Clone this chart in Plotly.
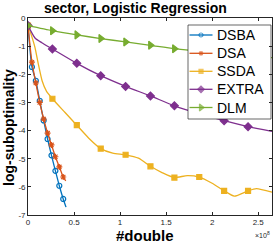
import plotly.graph_objects as go

# ---------------- data ----------------
series_names = ["DSBA", "DSA", "SSDA", "EXTRA", "DLM"]

# DSBA
dsba_x = [0, 0.0425, 0.085, 0.1275, 0.17, 0.2125, 0.255, 0.2975, 0.34, 0.3825, 0.413]
dsba_y = [-0.27, -1.74, -2.23, -2.94, -3.64, -4.30, -4.88, -5.43, -5.96, -6.43, -6.72]
dsba_mx = [0, 0.0425, 0.085, 0.1275, 0.17, 0.2125, 0.255, 0.2975, 0.34, 0.3825]
dsba_my = [-0.27, -1.74, -2.23, -2.94, -3.64, -4.30, -4.88, -5.43, -5.96, -6.43]

# DSA
dsa_x = [0, 0.0425, 0.085, 0.1275, 0.17, 0.2125, 0.255, 0.2975, 0.34, 0.3825, 0.41]
dsa_y = [-0.27, -1.57, -2.31, -3.00, -3.59, -4.09, -4.51, -4.93, -5.29, -5.65, -5.79]
dsa_mx = [0, 0.0425, 0.085, 0.1275, 0.17, 0.2125, 0.255, 0.2975, 0.34, 0.3825]
dsa_my = [-0.27, -1.57, -2.31, -3.00, -3.59, -4.09, -4.51, -4.93, -5.29, -5.65]

# SSDA
ssda_x = [0, 0.02, 0.05, 0.076, 0.11, 0.155, 0.2, 0.265, 0.4, 0.53, 0.66, 0.79, 0.92,
          1.06, 1.2, 1.33, 1.46, 1.59, 1.73, 1.86, 2.0, 2.13, 2.24, 2.39, 2.48, 2.65]
ssda_y = [-0.27, -0.45, -0.75, -1.05, -1.6, -2.25, -2.6, -2.87, -3.35, -3.81, -4.27, -4.64, -4.8,
          -4.86, -4.98, -5.27, -5.5, -5.67, -5.6, -5.65, -5.87, -6.14, -6.33, -6.14, -6.06, -6.19]
ssda_mx = [0, 0.265, 0.53, 0.79, 1.06, 1.33, 1.59, 1.86, 2.13, 2.39]
ssda_my = [-0.27, -2.87, -3.81, -4.64, -4.86, -5.27, -5.67, -5.65, -6.14, -6.14]

# EXTRA
extra_x = [0, 0.076, 0.15, 0.265, 0.53, 0.79, 1.06, 1.33, 1.59, 1.86, 2.13, 2.39, 2.65]
extra_y = [-0.27, -0.71, -0.88, -1.10, -1.61, -2.05, -2.43, -2.77, -3.12, -3.40, -3.65, -3.86, -4.03]
extra_mx = [0, 0.265, 0.53, 0.79, 1.06, 1.33, 1.59, 1.86, 2.13, 2.39]
extra_my = [-0.27, -1.10, -1.61, -2.05, -2.43, -2.77, -3.12, -3.40, -3.65, -3.86]

# DLM
dlm_x = [0, 0.265, 0.53, 0.79, 1.06, 1.33, 1.59, 1.86, 2.13, 2.39, 2.65]
dlm_y = [-0.27, -0.45, -0.60, -0.73, -0.85, -0.97, -1.09, -1.18, -1.27, -1.35, -1.41]
dlm_mx = [0, 0.265, 0.53, 0.79, 1.06, 1.33, 1.59, 1.86, 2.13, 2.39]
dlm_my = [-0.27, -0.45, -0.60, -0.73, -0.85, -0.97, -1.09, -1.18, -1.27, -1.35]

x_tick_vals = [0, 0.5, 1, 1.5, 2, 2.5]
x_tick_text = ["0", "0.5", "1", "1.5", "2", "2.5"]
y_tick_vals = [0, -1, -2, -3, -4, -5, -6, -7]
y_tick_text = ["0", "-1", "-2", "-3", "-4", "-5", "-6", "-7"]

# ---------------- styling ----------------
colors = ["#0072BD", "#D95319", "#EDB120", "#7E2F8E", "#77AC30"]
symbols = ["circle-open", "asterisk-open", "square", "diamond", "triangle-right"]
sizes = [5, 5, 5, 6, 7]
leg_sizes = [4, 4, 4, 5, 6]
FONT = "Liberation Sans, Arial, sans-serif"
LW = 1.3

# plot area in pixels
L, R, T, B = 28, 272, 18, 215
PW, PH = R - L, B - T

lines = [(dsba_x, dsba_y), (dsa_x, dsa_y), (ssda_x, ssda_y), (extra_x, extra_y), (dlm_x, dlm_y)]
marks = [(dsba_mx, dsba_my), (dsa_mx, dsa_my), (ssda_mx, ssda_my), (extra_mx, extra_my), (dlm_mx, dlm_my)]

fig = go.Figure()
for i, name in enumerate(series_names):
    lx, ly = lines[i]
    mx, my = marks[i]
    mk = dict(symbol=symbols[i], size=sizes[i], color=colors[i],
              line=dict(color=colors[i], width=1.2))
    fig.add_trace(go.Scatter(x=lx, y=ly, mode="lines",
                             line=dict(color=colors[i], width=LW, shape="spline", smoothing=0.6),
                             showlegend=False, hoverinfo="skip"))
    fig.add_trace(go.Scatter(x=mx, y=my, mode="markers", marker=mk, name=name, showlegend=False))

# ---------------- manual legend (pixel coords in overlay axes) ----------------
leg_left, leg_right, leg_top, leg_bot = 188, 271, 25, 119
leg_rows = [35, 53.3, 71.3, 89.3, 107.5]
line_x0, line_x1, text_x = 189.5, 212.5, 215


def rx(px):
    return px - L


def ry(py):
    return B - py


# legend box (drawn above data traces)
fig.add_trace(go.Scatter(
    x=[rx(leg_left), rx(leg_right), rx(leg_right), rx(leg_left), rx(leg_left)],
    y=[ry(leg_top), ry(leg_top), ry(leg_bot), ry(leg_bot), ry(leg_top)],
    mode="lines", fill="toself", fillcolor="white", line=dict(color="#262626", width=0.7),
    xaxis="x2", yaxis="y2", showlegend=False, hoverinfo="skip"))
annotations = []
for i, name in enumerate(series_names):
    yy = ry(leg_rows[i])
    fig.add_trace(go.Scatter(
        x=[rx(line_x0), rx((line_x0 + line_x1) / 2), rx(line_x1)], y=[yy, yy, yy],
        mode="lines+markers", xaxis="x2", yaxis="y2", showlegend=False, hoverinfo="skip",
        line=dict(color=colors[i], width=LW),
        marker=dict(symbol=symbols[i], size=[0, leg_sizes[i], 0], color=colors[i],
                    line=dict(color=colors[i], width=1.2))))
    annotations.append(dict(text=name, xref="x2", yref="y2", x=rx(text_x), y=yy,
                            xanchor="left", yanchor="middle", showarrow=False,
                            font=dict(family=FONT, size=14, color="black")))

axis_common = dict(showline=True, linecolor="#262626", linewidth=0.7, mirror="ticks",
                   ticks="inside", ticklen=3, tickcolor="#262626", tickwidth=0.7,
                   showgrid=False, zeroline=False, automargin=False,
                   tickfont=dict(family=FONT, size=8, color="#262626"))

fig.update_layout(
    width=274, height=243,
    margin=dict(l=L, r=274 - R, t=T, b=243 - B),
    paper_bgcolor="white", plot_bgcolor="white",
    font=dict(family=FONT),
    xaxis=dict(range=[0, 2.65], tickvals=x_tick_vals, ticktext=x_tick_text, **axis_common),
    yaxis=dict(range=[-7, 0], tickvals=y_tick_vals, ticktext=y_tick_text, **axis_common),
    xaxis2=dict(range=[0, PW], overlaying="x", visible=False, fixedrange=True),
    yaxis2=dict(range=[0, PH], overlaying="y", visible=False, fixedrange=True),
    showlegend=False,
)
for a in annotations:
    fig.add_annotation(**a)

fig.add_annotation(text="<b>sector, Logistic Regression</b>", xref="paper", yref="paper",
                   x=(135 - L) / PW, y=(B - 8) / PH, xanchor="center", yanchor="middle",
                   showarrow=False, font=dict(family=FONT, size=14, color="black"))
fig.add_annotation(text="<b>#double</b>", xref="paper", yref="paper",
                   x=(145 - L) / PW, y=(B - 235) / PH, xanchor="center", yanchor="middle",
                   showarrow=False, font=dict(family=FONT, size=15, color="black"))
fig.add_annotation(text="<b>log-suboptimality</b>", xref="paper", yref="paper",
                   x=(9 - L) / PW, y=(B - 128) / PH, xanchor="center", yanchor="middle",
                   textangle=-90, showarrow=False, font=dict(family=FONT, size=14, color="black"))
fig.add_annotation(text="\u00d710<sup>8</sup>", xref="paper", yref="paper",
                   x=(272 - L) / PW, y=(B - 235) / PH, xanchor="right", yanchor="middle",
                   showarrow=False, font=dict(family=FONT, size=7, color="#262626"))

fig.write_html("out.html", config={"displayModeBar": False},
               post_script="document.body.style.margin='0';document.body.style.overflow='hidden';")
